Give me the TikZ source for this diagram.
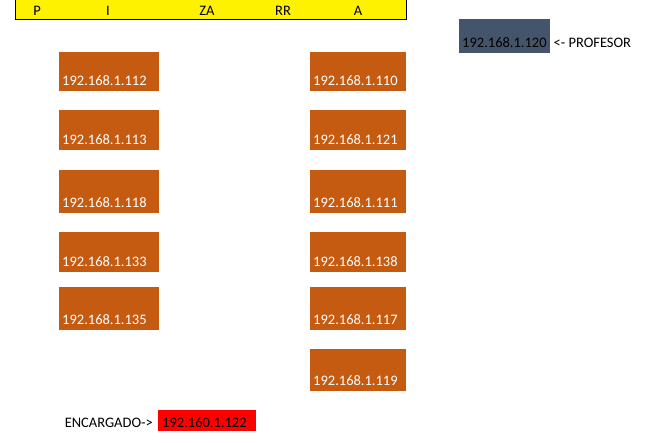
\documentclass[tikz,border=0pt]{standalone}
\usepackage{fontspec}
\setmainfont{Carlito}
\usepackage{tikz}
\usetikzlibrary{positioning}

\definecolor{ipbox}{HTML}{C55A11}
\definecolor{profbox}{HTML}{44546A}

\begin{document}
\begin{tikzpicture}[
    x=1pt, y=-1pt,
    every node/.style={font=\fontsize{14.5}{16}\selectfont},
    pc/.style={fill=ipbox, text=white, anchor=north west, inner xsep=3pt, inner ysep=0pt,
      text width=94pt, align=left, text height=#1, text depth=6pt},
    pc/.default=33pt,
    bar/.style={draw=black, line width=1pt, fill=yellow, anchor=north west, inner sep=0pt,
      minimum width=391pt, minimum height=20pt},
    barlbl/.style={anchor=base, inner sep=0pt},
    tag/.style={inner sep=0pt}
  ]
    \useasboundingbox (0,0) rectangle (656,443);
    % letters across the top
    \node[bar] (top) at (14.5,-1) {};
    \node[barlbl] (p) at (37,16) {P};
    \node[barlbl] (i) at (108,16) {I};
    \node[barlbl] (za) at (207,16) {ZA};
    \node[barlbl] (rr) at (283,16) {RR};
    \node[barlbl] (a) at (358,16) {A};
    % left column
    \node[pc] (l1) at (59,52) {192.168.1.112};
    \node[pc=34pt] (l2) at (59,110) {192.168.1.113};
    \node[pc=37pt] (l3) at (59,170) {192.168.1.118};
    \node[pc=34pt] (l4) at (59,232) {192.168.1.133};
    \node[pc=37pt] (l5) at (59,287) {192.168.1.135};
    % right column
    \node[pc, text width=90pt] (r1) at (310,52) {192.168.1.110};
    \node[pc=34pt, text width=90pt] (r2) at (310,110) {192.168.1.121};
    \node[pc=37pt, text width=90pt] (r3) at (310,170) {192.168.1.111};
    \node[pc=34pt, text width=90pt] (r4) at (310,232) {192.168.1.138};
    \node[pc=37pt, text width=90pt] (r5) at (310,287) {192.168.1.117};
    \node[pc=36pt, text width=90pt] (r6) at (310,349) {192.168.1.119};
    % teacher
    \node[pc=28pt, fill=profbox, text=black, text width=85pt] (prof) at (459,19) {192.168.1.120};
    \node[tag, anchor=base west] (proflbl) at ([xshift=3pt]prof.base east) {<- PROFESOR};
    % person in charge
    \node[pc=17pt, fill=red, text=black, inner xsep=4pt, text width=90pt, text depth=4pt] (enc) at (158,410) {192.160.1.122};
    \node[tag, anchor=base east] (enclbl) at ([xshift=-5pt]enc.base west) {ENCARGADO->};
\end{tikzpicture}
\end{document}
